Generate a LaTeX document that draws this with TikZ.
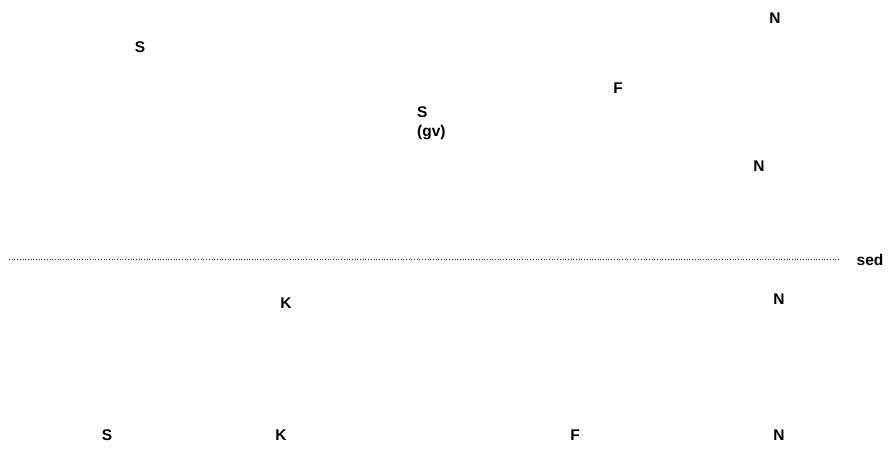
\documentclass[tikz,border=0pt]{standalone}
\usepackage{fontspec}
\setmainfont{Liberation Sans}
\begin{document}
\begin{tikzpicture}[x=1pt,y=-1pt,
  lbl/.style={font=\bfseries\fontsize{15.5}{19}\selectfont, inner sep=0pt, anchor=center},
  lbll/.style={font=\bfseries\fontsize{15.5}{19}\selectfont, inner sep=0pt, align=left, anchor=north west}]
\useasboundingbox (0,0) rectangle (891,448);
\node[lbl] (n1) at (775,18) {N};
\node[lbl] (s1) at (140,47) {S};
\node[lbl] (f1) at (618,88) {F};
\node[lbll] (sgv) at (417,106) {S\\(gv)};
\node[lbl] (n2) at (759,166) {N};
\coordinate (l1) at (9,259);
\coordinate (l2) at (840,259);
\draw[dotted, line width=0.7pt, black!80] (l1) -- (l2);
\node[lbl] (sed) at (870,260) {sed};
\node[lbl] (k1) at (286,303) {K};
\node[lbl] (n3) at (779,299) {N};
\node[lbl] (s2) at (107,435) {S};
\node[lbl] (k2) at (281,435) {K};
\node[lbl] (f2) at (575,435) {F};
\node[lbl] (n4) at (779,435) {N};
\end{tikzpicture}
\end{document}
